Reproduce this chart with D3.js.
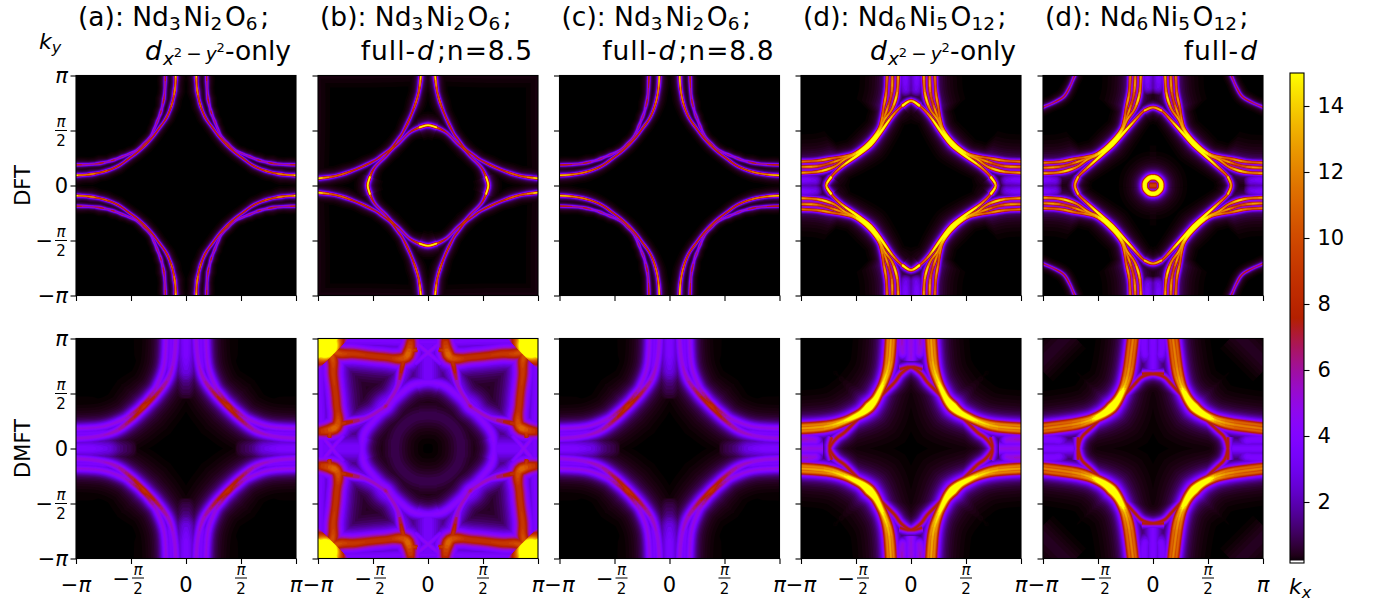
<!DOCTYPE html>
<html><head><meta charset="utf-8">
<script src="https://cdn.jsdelivr.net/npm/d3@7/dist/d3.min.js"></script>
<style>html,body{margin:0;background:#fff}svg{display:block}text{font-family:"DejaVu Sans";fill:#000}</style>
</head><body><svg id="c" width="1379" height="607"></svg>
<script>
// ---- labels
const tickValues=[-1,-0.5,0,0.5,1];
const tickLabels=["−π","−π/2","0","π/2","π"];
const cbarTicks=[2,4,6,8,10,12,14];
const rowLabels=["DFT","DMFT"];
const colLefts=[76,318,559.5,801,1043];
// ---- Fermi-surface ridges, in units of π, first quadrant.
// c: ridge centre points, I: peak intensity along the ridge, g: ridge half width,
// join: ridge continues through the diagonal as its own mirror image,
// both: ridge is drawn together with its diagonal reflection
const edgeWash=[{c:[[1.05,-.1],[1.03,.5],[1.03,1.05]],I:[.28,.28],g:.12,both:1}];
const aDFT=[
 {c:[[1.05,.092],[.9,.098],[.75,.125],[.62,.175],[.52,.245],[.44,.305],[.37,.37]],I:[14,16,11,15,10,12,9,10,8,9,8.5,9,9,9.5,10],g:.009,join:1},
 {c:[[1.05,.186],[.83,.195],[.68,.225],[.58,.262],[.5,.295],[.44,.325],[.38,.38]],I:[7,9,6,10,6,9,6,8,6,7,6,6,7,7,8],g:.009,join:1}];
const bDFT=[
 {c:[[1.05,.06],[.845,.085],[.66,.145],[.48,.23],[.41,.28],[.335,.335]],I:[16,15,11,12,9,10,8,9,8,9,10],g:.01,join:1},
 {c:[[.527,-.08],[.548,0],[.527,.08],[.48,.17],[.39,.26],[.33,.33]],I:[16,16,15,11,8,7,8,10],g:.011,join:1},
 ...edgeWash];
const cDFT=[
 {c:[[1.05,.092],[.9,.098],[.75,.125],[.62,.175],[.52,.245],[.44,.305],[.37,.37]],I:[16,15,14,12,13,11,10,9,10,9,9,9,9.5,10],g:.009,join:1},
 {c:[[1.05,.186],[.83,.195],[.68,.225],[.58,.262],[.5,.295],[.44,.325],[.38,.38]],I:[8,9,7,9,6,8,6,8,6,7,7,7,8],g:.009,join:1}];
const dDFT=[
 {c:[[1.05,.165],[.85,.175],[.7,.21],[.6,.25]],I:[7.5,7.5,7.5,.5],g:.038,both:1},
 {c:[[1.05,.115],[.85,.125],[.7,.17],[.6,.24],[.5,.285],[.375,.375]],I:[16,12,16,12,14,13,16,18],g:.014,join:1},
 {c:[[1.05,.17],[.85,.175],[.7,.215],[.6,.252],[.5,.29],[.38,.38]],I:[11,14,10,14,12,14,16,18],g:.014,join:1},
 {c:[[1.05,.215],[.85,.225],[.7,.25],[.6,.265],[.5,.297],[.385,.385]],I:[14,11,14,11,13,13,16,18],g:.014,join:1},
 {c:[[.724,-.079],[.77,0],[.724,.079],[.633,.17],[.48,.28],[.37,.37]],I:[18,16,12,11,13,18,22,26],g:.013,join:1},
 {c:[[1.05,.05],[.9,.05],[.8,.03]],I:[3.8,3.6,3,.3],g:.06,both:1}];
const eDFT=[
 {c:[[1.05,.16],[.85,.17],[.7,.205],[.6,.245]],I:[7.5,7.5,7.5,.5],g:.038,both:1},
 {c:[[1.05,.11],[.85,.12],[.7,.165],[.6,.235],[.5,.28],[.375,.375]],I:[16,12,16,12,14,13,16,18],g:.014,join:1},
 {c:[[1.05,.16],[.85,.17],[.7,.21],[.6,.247],[.5,.285],[.38,.38]],I:[11,14,10,14,12,14,16,18],g:.014,join:1},
 {c:[[1.05,.205],[.85,.215],[.7,.245],[.6,.26],[.5,.292],[.385,.385]],I:[14,11,14,11,13,13,16,18],g:.014,join:1},
 {c:[[.68,-.08],[.71,0],[.68,.08],[.57,.185],[.46,.285],[.37,.37]],I:[15,14,12,11,14,18,22,26],g:.013,join:1},
 {c:[[1.05,.69],[.98,.72],[.89,.76],[.81,.81]],I:[7,8,7,8,8],g:.01,join:1},
 {c:[[.075,-.02],[.072,.025],[.053,.053]],I:[30,30,30],g:.015,join:1},
 {c:[[.03,0],[-.03,0]],I:[10,10],g:.04},
 {c:[[1.05,.05],[.92,.05],[.82,.03]],I:[3.8,3.6,3,.3],g:.06,both:1}];
const aDMFT=[
 {c:[[1.05,0],[.85,0],[.7,0],[.6,0],[.45,0]],I:[3.9,3.8,3,1.6,.4],g:.085,both:1},
 {c:[[1.05,.135],[.75,.15],[.58,.23]],I:[3.8,3.8,.5],g:.045,both:1},
 {c:[[1.05,.09],[.83,.106],[.645,.155],[.5,.26],[.38,.38]],I:[5.4,5.4,5.4,5.7,6.3,7.2,8,8.8],g:.04,join:1},
 {c:[[1.05,.18],[.77,.197],[.58,.26],[.48,.32],[.39,.39]],I:[5.1,5.1,5.1,5.2,5.6,6.5,7.5,8.5],g:.04,join:1}];
const bDMFT=[
 {c:[[.15,1.05],[.2,.833],[.42,.833],[.66,.86],[.85,.88],[1.05,1.05]],I:[7,12,9,9,9.5,11,15],g:.068,both:1},
 {c:[[.86,.86],[.94,.94],[1.1,1.1]],I:[15,24,60,70],g:.13},
 {c:[[.9,.1],[.845,.206],[.573,.273],[.42,.36],[.385,.385]],I:[9,11,6,6,7],g:.035,join:1},
 {c:[[.58,-.1],[.6,0],[.573,.15],[.45,.3],[.37,.37]],I:[4.2,4.2,4.6,4.6,5],g:.055,join:1},
 {c:[[.3,-.08],[.3,0],[.28,.12],[.215,.215]],I:[.9,.9,.9,.9],g:.1,join:1},
 {c:[[-.1,.97],[.2,.97],[.5,.98],[.75,.98]],I:[3.7,3.7],g:.08,both:1},
 {c:[[0,.55],[0,.7],[0,1.05]],I:[2,3.6,3.6,3.6],g:.12,both:1},
 {c:[[.75,.2],[.5,.31],[.41,.41]],I:[3.5,3.5],g:.08,join:1},
 {c:[[0,.87],[.12,.97]],I:[5,4.5],g:.035,both:1},
 {c:[[0,.87],[.12,.77]],I:[5,4],g:.035,both:1}];
const cDMFT=aDMFT;
const dDMFT=[
 {c:[[1.05,.08],[.9,.08],[.8,.05]],I:[5.6,5.6,5,1],g:.06,both:1},
 {c:[[1.05,0],[.8,0]],I:[5.4,5],g:.06,both:1},
 {c:[[.72,-.1],[.74,0],[.68,.09],[.6,.15],[.5,.25],[.37,.37]],I:[7.8,7.8,8,8,8,8],g:.03,join:1},
 {c:[[1.05,.155],[.75,.185],[.52,.28],[.375,.375]],I:[12,12.5,14,18,24],g:.032,join:1},
 {c:[[1.05,.18],[.75,.205],[.52,.29],[.38,.38]],I:[13,13.5,15,18,24],g:.032,join:1},
 {c:[[1.05,.205],[.72,.23],[.5,.3],[.385,.385]],I:[12,12.5,14,18,24],g:.032,join:1}];
const eDMFT=[
 {c:[[1.05,.08],[.9,.08],[.76,.05]],I:[4,4,3.8,1],g:.065,both:1},
 {c:[[1.05,0],[.72,0]],I:[3.9,3.7],g:.07,both:1},
 {c:[[1.05,.75],[.9,.9]],I:[.45,.45],g:.12,join:1},
 {c:[[.68,-.1],[.68,0],[.65,.1],[.57,.18],[.37,.37]],I:[8,8,8,8,8],g:.028,join:1},
 {c:[[1.05,.15],[.69,.2],[.51,.275],[.37,.37]],I:[11,11.5,13,18,24],g:.032,join:1},
 {c:[[1.05,.175],[.69,.225],[.51,.285],[.375,.375]],I:[12,12.5,14,18,24],g:.032,join:1},
 {c:[[1.05,.205],[.69,.25],[.5,.3],[.38,.38]],I:[11,11.5,13,18,24],g:.032,join:1}];
const panelRidges=[[aDFT,bDFT,cDFT,dDFT,eDFT],[aDMFT,bDMFT,cDMFT,dDMFT,eDMFT]];
const levels=[.12,.17,.23,.3,.4,.5,.65,.8,1,1.25,1.5,1.75,2,2.3,2.6,3,3.3,3.6,4,4.3,4.6,5,5.5,6,6.5,7,7.5,8,8.5,9,9.5,10,10.5,11,11.5,12,12.5,13,13.5,14,14.5,15];

const W=220,rows=[75.5,338.5],H=220;
const svg=d3.select("#c");
const norm=d3.scaleLinear().domain([.1,15]).range([0,1]).clamp(true);
const gnuplot=t=>d3.rgb(255*Math.sqrt(t),255*t*t*t,255*Math.max(0,Math.sin(2*Math.PI*t))).formatHex();
const color=v=>gnuplot(norm(v));

function cr(p,n){const o=[];const q=i=>p[Math.max(0,Math.min(p.length-1,i))];
 for(let i=0;i<p.length-1;i++)for(let k=0;k<n;k++){const t=k/n,a=q(i-1),b=q(i),c=q(i+1),d=q(i+2);
  o.push([0,1].map(j=>.5*(2*b[j]+(c[j]-a[j])*t+(2*a[j]-5*b[j]+4*c[j]-d[j])*t*t+(3*b[j]-a[j]-3*c[j]+d[j])*t*t*t)));}
 o.push(p[p.length-1]);return o;}
function expand(r){
 let c=r.c,I=r.I;
 if(r.join){c=c.concat(c.slice(0,-1).reverse().map(d=>[d[1],d[0]]));I=I.concat(I.slice(0,-1).reverse());}
 const n=Math.max(3,Math.ceil(40/(c.length-1)));
 const p=cr(c,n);
 return p.map((d,i)=>{const u=i/(p.length-1)*(I.length-1),f=Math.floor(u),t=u-f;
  return {x:d[0],y:d[1],I:I[f]*(1-t)+(I[Math.min(f+1,I.length-1)])*t};});
}
const mirrors=[[1,1],[-1,1],[1,-1],[-1,-1]];
panelRidges.forEach((row,ri)=>row.forEach((ridges,ci)=>{
 const x=d3.scaleLinear().domain([-1,1]).range([colLefts[ci],colLefts[ci]+W]);
 const y=d3.scaleLinear().domain([-1,1]).range([rows[ri]+H,rows[ri]]);
 const line=d3.line().x(d=>x(d[0]).toFixed(1)).y(d=>y(d[1]).toFixed(1));
 const id=`cp${ri}${ci}`;
 svg.append("clipPath").attr("id",id).append("rect").attr("x",x(-1)).attr("y",y(1)).attr("width",W).attr("height",H);
 const g=svg.append("g").attr("clip-path",`url(#${id})`);
 g.append("rect").attr("x",x(-1)).attr("y",y(1)).attr("width",W).attr("height",H).attr("fill",color(0));
 const all=ridges.flatMap(r=>r.both?[r,{...r,c:r.c.map(d=>[d[1],d[0]])}]:[r]);
 const curves=all.map(r=>({g:r.g,p:expand(r)}));
 levels.forEach(L=>{
  let dStr="";
  curves.forEach(cv=>{
   const p=cv.p;
   let runs=[],cur=[];
   p.forEach((d,i)=>{
    const a=p[Math.max(0,i-1)],b=p[Math.min(p.length-1,i+1)];
    let nx=-(b.y-a.y),ny=b.x-a.x;const m=Math.hypot(nx,ny)||1;nx/=m;ny/=m;
    const w=d.I>L?cv.g*Math.sqrt(d.I/L-1):0;
    if(w>0)cur.push({x:d.x,y:d.y,nx,ny,w});else{if(cur.length)runs.push(cur);cur=[];}
   });
   if(cur.length)runs.push(cur);
   runs.forEach(run=>{
    if(run.length<2)return;
    const ring=run.map(d=>[d.x+d.nx*d.w,d.y+d.ny*d.w]).concat(run.slice().reverse().map(d=>[d.x-d.nx*d.w,d.y-d.ny*d.w]));
    mirrors.forEach(m=>{
     let r=ring.map(q=>[q[0]*m[0],q[1]*m[1]]);
     if(d3.polygonArea(r)<0)r=r.reverse();
     dStr+=line(r)+"Z";});
   });
  });
  if(dStr)g.append("path").attr("d",dStr).attr("fill",color(L));
 });
 const ax=d3.axisBottom(x).tickValues(tickValues).tickFormat("").tickSize(5.5);
 const ay=d3.axisLeft(y).tickValues(tickValues).tickFormat("").tickSize(5.5);
 const gx=svg.append("g").attr("transform",`translate(0,${y(-1)})`).call(ax);
 const gy=svg.append("g").attr("transform",`translate(${x(-1)},0)`).call(ay);
 [gx,gy].forEach(a=>{a.select(".domain").remove();a.selectAll("line").attr("stroke","#000").attr("stroke-width",1.1);});
 svg.append("rect").attr("x",x(-1)).attr("y",y(1)).attr("width",W).attr("height",H).attr("fill","none").attr("stroke","#000").attr("stroke-width",1.1);
 if(ri===1)tickValues.forEach((v,i)=>label(x(v),y(-1)+33,tickLabels[i],"middle"));
 if(ci===0)tickValues.forEach((v,i)=>label(x(-1)-8,y(v)+7.5,tickLabels[i],"end"));
}));
function piText(sel,size,anchor,xx,yy,s){
 const t=sel.append("text").attr("x",xx).attr("y",yy).attr("font-size",size).attr("text-anchor",anchor);
 [...s].forEach(ch=>{t.append("tspan").attr("font-style",ch==="π"?"italic":"normal").text(ch);});
 return t;}
function label(xx,yy,s,anchor){
 if(s.includes("/")){
  const neg=s[0]==="−";
  const center=anchor==="end"?xx-7:(neg?xx+7:xx);
  const G=svg.append("g");
  const base=yy-7.5+(anchor==="end"?0:-6);
  G.append("line").attr("x1",center-6).attr("x2",center+6).attr("y1",base).attr("y2",base).attr("stroke","#000").attr("stroke-width",1);
  piText(G,15,"middle",center,base-3.5,"π");
  G.append("text").attr("x",center).attr("y",base+15.5).attr("font-size",15).attr("text-anchor","middle").text("2");
  if(neg)G.append("text").attr("x",center-8).attr("y",base+7.5).attr("font-size",21).attr("text-anchor","end").text("−");
 } else piText(svg,21,anchor,xx,yy,s);
}
const FS=26.5;
function rich(xx,yy,anchor,parts,fs,ls){
 const t=svg.append("text").attr("x",xx).attr("y",yy).attr("font-size",fs||FS).attr("text-anchor",anchor);
 if(ls)t.attr("letter-spacing",ls);
 parts.forEach(p=>{const s=t.append("tspan").text(p.t).attr("font-size",p.s||fs||FS);
  if(p.i)s.attr("font-style","italic");
  if(p.dy)s.attr("dy",p.dy);
  if(p.dx)s.attr("dx",p.dx);});
}
const sub=t=>[{t,s:18.5,dy:4},{t:"\u200a",dy:-4}];
const formula1=[{t:"Nd"},...sub("3"),{t:"Ni"},...sub("2"),{t:"O"},...sub("6"),{t:";"}];
const formula2=[{t:"Nd"},...sub("6"),{t:"Ni"},...sub("5"),{t:"O"},...sub("12"),{t:";"}];
const dOnly=[{t:"d",i:1},{t:"x",i:1,s:18.5,dy:5,dx:1},{t:"2",s:13,dy:-8},{t:"−",s:18.5,dy:3,dx:4},{t:"y",i:1,s:18.5,dx:4},{t:"2",s:13,dy:-8},{t:"-only",dy:8}];
const fullD=n=>[{t:"full-"},{t:"d",i:1,dx:1},{t:";n="+n,dx:2}];
const tops=[["(a): ",formula1,dOnly,0],["(b): ",formula1,fullD("8.5"),1],["(c): ",formula1,fullD("8.8"),1],["(d): ",formula2,dOnly,0],["(d): ",formula2,[{t:"full-"},{t:"d",i:1,dx:1},{t:" "}],1]];
tops.forEach((t,i)=>{
 rich(colLefts[i]+2,26,"start",[{t:t[0]},...t[1]]);
 rich(colLefts[i]+W-5,60,"end",t[2],FS,t[3]);
});
rich(39,49,"start",[{t:"k",i:1},{t:"y",i:1,s:16,dy:4}],22);
rich(1289,594,"start",[{t:"k",i:1},{t:"x",i:1,s:16,dy:4}],22);
rowLabels.forEach((l,i)=>svg.append("text").attr("transform",`translate(30,${rows[i]+H/2}) rotate(-90)`).attr("text-anchor","middle").attr("font-size",21).text(l));
const cb={x:1290,w:14,y0:73,y1:563};
const cy=d3.scaleLinear().domain([2,14]).range([502,106]);
const defs=svg.append("defs");
const lg=defs.append("linearGradient").attr("id","cbg").attr("x1",0).attr("x2",0).attr("y1",1).attr("y2",0);
d3.range(0,65).forEach(i=>lg.append("stop").attr("offset",i/64).attr("stop-color",gnuplot(i/64)));
svg.append("rect").attr("x",cb.x).attr("y",cb.y0).attr("width",cb.w).attr("height",cb.y1-cb.y0).attr("fill","url(#cbg)");
svg.append("rect").attr("x",cb.x).attr("y",cb.y1-2.5).attr("width",cb.w).attr("height",2.5).attr("fill","#fff");
svg.append("rect").attr("x",cb.x).attr("y",cb.y0).attr("width",cb.w).attr("height",cb.y1-cb.y0).attr("fill","none").attr("stroke","#000").attr("stroke-width",1.1);
const ca=svg.append("g").attr("transform",`translate(${cb.x+cb.w},0)`).call(d3.axisRight(cy).tickValues(cbarTicks).tickSize(5.5).tickPadding(8));
ca.select(".domain").remove();
ca.selectAll("line").attr("stroke","#000").attr("stroke-width",1.1);
ca.selectAll("text").attr("font-size",21).attr("font-family","DejaVu Sans").attr("fill","#000");
</script></body></html>
